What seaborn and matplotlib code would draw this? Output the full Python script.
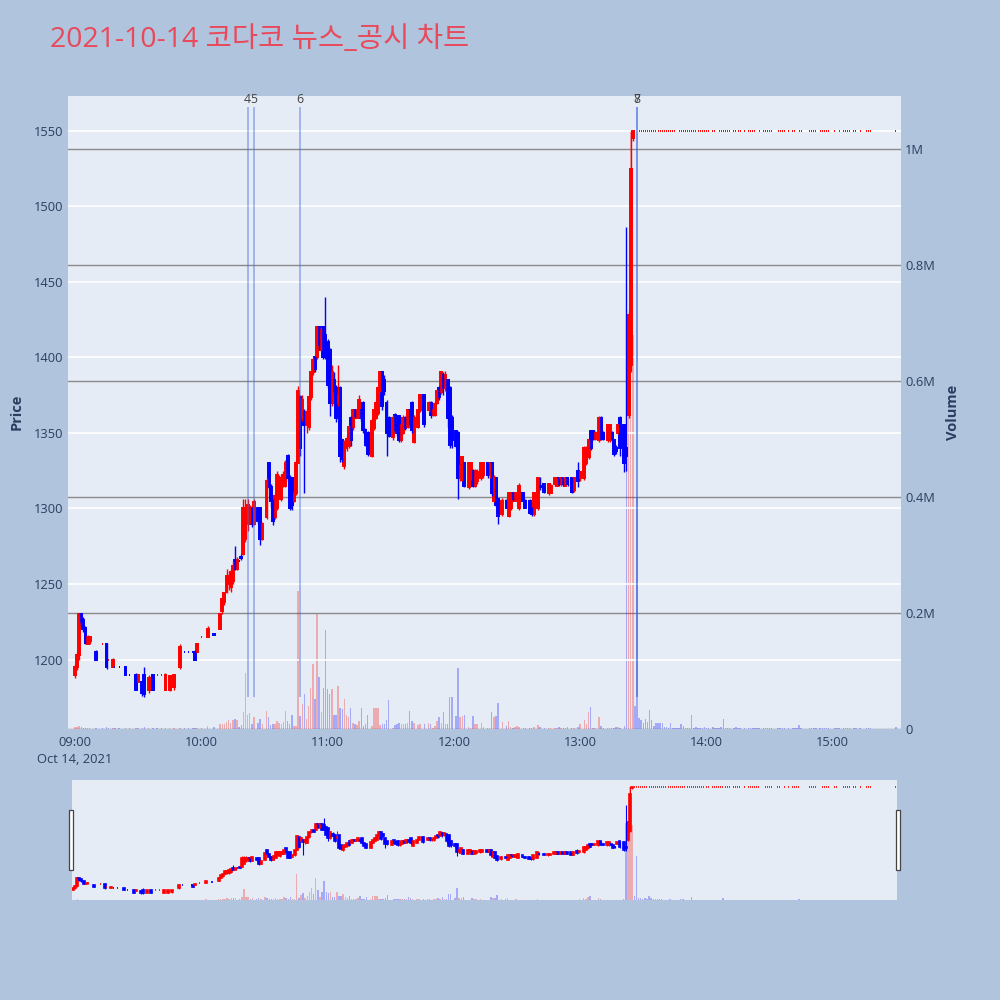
import pandas as pd
import seaborn as sns
import matplotlib.pyplot as plt
from matplotlib.patches import Rectangle

sns.set_theme(style="darkgrid")
plt.rcParams['font.family'] = ['Open Sans', 'Noto Sans CJK KR', 'DejaVu Sans']

title = '2021-10-14 코다코 뉴스_공시 차트'
date_label = 'Oct 14, 2021'
hour_labels = ['09:00', '10:00', '11:00', '12:00', '13:00', '14:00', '15:00']
price_ticks = [1200, 1250, 1300, 1350, 1400, 1450, 1500, 1550]
vol_ticks = [0, 200000, 400000, 600000, 800000, 1000000]
vol_labels = ['0', '0.2M', '0.4M', '0.6M', '0.8M', '1M']

# news markers (minutes after 09:00)
news_min = [82, 85, 107, 267, 267]
news_txt = ['4', '5', '6', '7', '8']

# 1-minute candles, t = minutes after 09:00
# 09:00 - 10:06
t_a = [0, 1, 2, 3, 4, 5, 6, 7, 10, 13, 15, 16, 18, 19, 21, 24, 26, 29, 30, 32,
       33, 35, 37, 39, 41, 43, 45, 47, 50, 52, 54, 56, 57, 58, 60, 63, 66]
o_a = [1190, 1195, 1203, 1230, 1226, 1221, 1210, 1212, 1205, 1210, 1210, 1200, 1195, 1195, 1195, 1195, 1190, 1190, 1185, 1185,
       1190, 1180, 1190, 1190, 1190, 1180, 1180, 1182, 1195, 1205, 1205, 1205, 1205, 1205, 1215, 1215, 1217]
h_a = [1197, 1205, 1231, 1231, 1228, 1222, 1216, 1215, 1206, 1210, 1211, 1200, 1201, 1195, 1195, 1195, 1190, 1191, 1190, 1186,
       1195, 1190, 1190, 1190, 1190, 1191, 1190, 1190, 1210, 1205, 1205, 1205, 1206, 1211, 1215, 1222, 1217]
l_a = [1188, 1193, 1200, 1222, 1218, 1210, 1210, 1210, 1200, 1210, 1194, 1200, 1195, 1195, 1195, 1190, 1190, 1180, 1185, 1176,
       1175, 1178, 1180, 1190, 1190, 1180, 1179, 1180, 1194, 1205, 1205, 1205, 1200, 1205, 1215, 1215, 1216]
c_a = [1195, 1203, 1230, 1225, 1220, 1211, 1215, 1215, 1200, 1210, 1195, 1200, 1200, 1195, 1195, 1190, 1190, 1180, 1190, 1178,
       1177, 1188, 1180, 1190, 1190, 1190, 1189, 1190, 1208, 1205, 1205, 1205, 1200, 1210, 1215, 1220, 1216]
v_a = [4000, 3000, 5000, 3000, 2000, 2000, 1000, 1000, 1000, 1000, 3000, 1000, 1000, 1000, 1000, 2000, 1000, 2000, 1000, 1000,
       3000, 2000, 1000, 1000, 1000, 1000, 1000, 1000, 2000, 1000, 1000, 1000, 1000, 2000, 1000, 6000, 3000]

# 10:09 - 11:06
t_b = [69, 70, 71, 72, 73, 74, 75, 76, 77, 78, 79, 80, 81, 82, 83, 84, 85, 87, 88, 89,
       91, 92, 93, 94, 95, 96, 97, 98, 99, 100, 101, 102, 103, 104, 105, 106, 107, 108, 109, 110,
       111, 112, 113, 114, 115, 116, 117, 118, 119, 120, 121, 122, 123, 124, 125, 126]
o_b = [1220, 1232, 1238, 1245, 1250, 1248, 1252, 1266, 1260, 1265, 1268, 1270, 1280, 1290, 1292, 1300, 1290, 1300, 1300, 1280,
       1294, 1330, 1314, 1305, 1294, 1300, 1310, 1306, 1315, 1315, 1335, 1320, 1320, 1305, 1310, 1330, 1374, 1360, 1364, 1355,
       1354, 1374, 1390, 1400, 1400, 1420, 1405, 1420, 1415, 1410, 1405, 1370, 1385, 1380, 1370, 1380]
h_b = [1231, 1241, 1245, 1260, 1258, 1260, 1265, 1275, 1268, 1265, 1270, 1306, 1306, 1306, 1302, 1301, 1306, 1301, 1301, 1291,
       1320, 1331, 1316, 1306, 1310, 1325, 1322, 1322, 1325, 1332, 1336, 1322, 1321, 1312, 1332, 1381, 1375, 1375, 1366, 1366,
       1375, 1391, 1400, 1401, 1421, 1421, 1420, 1421, 1440, 1412, 1406, 1395, 1390, 1382, 1395, 1381]
l_b = [1220, 1230, 1236, 1244, 1246, 1245, 1250, 1259, 1259, 1265, 1266, 1269, 1278, 1285, 1290, 1288, 1289, 1290, 1276, 1279,
       1293, 1313, 1300, 1289, 1293, 1299, 1309, 1305, 1314, 1314, 1318, 1299, 1299, 1304, 1309, 1330, 1335, 1358, 1310, 1350,
       1352, 1372, 1388, 1390, 1399, 1405, 1404, 1399, 1399, 1380, 1361, 1368, 1375, 1357, 1368, 1331]
c_b = [1230, 1240, 1244, 1255, 1255, 1258, 1262, 1260, 1266, 1265, 1267, 1300, 1300, 1302, 1300, 1290, 1304, 1292, 1280, 1290,
       1318, 1314, 1305, 1292, 1308, 1322, 1320, 1320, 1322, 1330, 1320, 1300, 1302, 1310, 1330, 1378, 1340, 1372, 1355, 1364,
       1374, 1390, 1398, 1392, 1420, 1408, 1418, 1400, 1400, 1382, 1370, 1390, 1378, 1360, 1375, 1335]
v_b = [8000, 9000, 9000, 12000, 15000, 11000, 15000, 18000, 16000, 3000, 7000, 30000, 97000, 25000, 28000, 9000, 20000, 11000, 18000, 8000,
       31000, 21000, 7000, 8000, 8000, 14000, 10000, 8000, 12000, 31000, 14000, 8000, 25000, 5000, 5000, 238000, 22000, 43000, 60000, 18000,
       40000, 71000, 112000, 51000, 198000, 89000, 30000, 71000, 170000, 69000, 60000, 69000, 25000, 25000, 74000, 37000]

# 11:07 - 12:02
t_c = [127, 128, 129, 130, 131, 132, 133, 134, 135, 136, 137, 138, 139, 141, 142, 143, 144, 145, 146, 147,
       148, 149, 151, 152, 153, 154, 155, 156, 157, 158, 159, 160, 161, 163, 164, 166, 168, 169, 170, 171,
       172, 173, 174, 175, 176, 177, 178, 179, 181, 182]
o_c = [1345, 1328, 1340, 1341, 1360, 1354, 1365, 1360, 1365, 1365, 1370, 1352, 1350, 1335, 1353, 1360, 1363, 1378, 1390, 1385,
       1370, 1360, 1347, 1362, 1358, 1361, 1345, 1350, 1360, 1354, 1365, 1370, 1344, 1354, 1365, 1375, 1365, 1370, 1362, 1362,
       1370, 1380, 1377, 1388, 1380, 1385, 1380, 1360, 1351, 1350]
h_c = [1346, 1345, 1348, 1355, 1361, 1366, 1366, 1366, 1375, 1366, 1371, 1353, 1351, 1360, 1366, 1372, 1381, 1391, 1391, 1388,
       1372, 1361, 1362, 1363, 1360, 1362, 1356, 1362, 1361, 1366, 1366, 1371, 1362, 1366, 1376, 1376, 1371, 1371, 1366, 1371,
       1379, 1381, 1391, 1390, 1391, 1386, 1381, 1362, 1352, 1351]
l_c = [1331, 1326, 1338, 1340, 1341, 1352, 1360, 1360, 1360, 1358, 1350, 1341, 1335, 1334, 1352, 1359, 1362, 1377, 1365, 1375,
       1335, 1347, 1345, 1350, 1348, 1344, 1344, 1349, 1352, 1353, 1355, 1350, 1343, 1353, 1364, 1354, 1364, 1360, 1361, 1361,
       1369, 1372, 1376, 1375, 1378, 1354, 1340, 1340, 1340, 1306]
c_c = [1333, 1344, 1346, 1354, 1345, 1365, 1361, 1365, 1372, 1360, 1352, 1342, 1336, 1358, 1365, 1370, 1380, 1390, 1368, 1378,
       1350, 1348, 1360, 1352, 1350, 1345, 1355, 1360, 1353, 1365, 1356, 1352, 1360, 1365, 1375, 1356, 1370, 1362, 1365, 1369,
       1378, 1374, 1390, 1380, 1388, 1360, 1342, 1345, 1341, 1320]
v_c = [34000, 51000, 25000, 20000, 37000, 11000, 9000, 7000, 14000, 37000, 5000, 8000, 25000, 5000, 37000, 37000, 37000, 7000, 8000, 8000,
       15000, 50000, 2000, 7000, 9000, 11000, 9000, 8000, 8000, 11000, 31000, 14000, 11000, 7000, 8000, 8000, 11000, 8000, 2000, 5000,
       13000, 20000, 11000, 29000, 9000, 9000, 55000, 55000, 22000, 106000]

# 12:03 - 13:25
t_d = [183, 184, 185, 187, 188, 189, 190, 191, 193, 194, 196, 197, 198, 199, 200, 201, 203, 205, 206, 207,
       208, 209, 210, 211, 213, 214, 216, 217, 218, 220, 221, 223, 225, 226, 228, 229, 230, 231, 232, 233,
       234, 236, 237, 239, 240, 242, 243, 244, 245, 246, 247, 249, 250, 251, 253, 254, 255, 256, 257, 258,
       259, 261, 262, 263, 264, 265]
o_d = [1320, 1319, 1330, 1314, 1320, 1325, 1315, 1318, 1320, 1322, 1330, 1322, 1330, 1305, 1320, 1306, 1296, 1305, 1295, 1300,
       1310, 1305, 1305, 1300, 1310, 1305, 1305, 1300, 1296, 1300, 1315, 1316, 1310, 1310, 1316, 1315, 1320, 1316, 1320, 1315,
       1320, 1320, 1312, 1325, 1320, 1320, 1330, 1334, 1351, 1351, 1346, 1345, 1360, 1350, 1345, 1345, 1350, 1345, 1340, 1350,
       1360, 1355, 1340, 1362, 1395, 1545]
h_d = [1330, 1335, 1331, 1331, 1331, 1326, 1326, 1326, 1331, 1331, 1331, 1331, 1331, 1322, 1321, 1307, 1307, 1306, 1311, 1311,
       1311, 1310, 1310, 1317, 1311, 1306, 1306, 1301, 1311, 1321, 1321, 1317, 1317, 1316, 1321, 1320, 1320, 1320, 1320, 1320,
       1320, 1321, 1321, 1331, 1325, 1341, 1341, 1346, 1352, 1352, 1351, 1361, 1361, 1351, 1356, 1356, 1351, 1346, 1342, 1356,
       1361, 1356, 1486, 1431, 1550, 1550]
l_d = [1318, 1318, 1314, 1313, 1319, 1314, 1314, 1316, 1319, 1320, 1320, 1320, 1308, 1304, 1301, 1290, 1295, 1300, 1294, 1299,
       1305, 1305, 1305, 1299, 1305, 1300, 1296, 1295, 1295, 1299, 1312, 1310, 1309, 1310, 1315, 1315, 1315, 1315, 1315, 1315,
       1315, 1310, 1311, 1314, 1318, 1319, 1329, 1333, 1339, 1345, 1345, 1344, 1345, 1345, 1344, 1344, 1345, 1335, 1336, 1349,
       1335, 1324, 1325, 1360, 1390, 1543]
c_d = [1328, 1334, 1315, 1330, 1330, 1315, 1325, 1324, 1330, 1330, 1322, 1330, 1310, 1320, 1302, 1295, 1305, 1300, 1310, 1310,
       1306, 1310, 1310, 1315, 1305, 1300, 1297, 1296, 1310, 1320, 1314, 1311, 1316, 1315, 1320, 1320, 1316, 1320, 1316, 1320,
       1316, 1311, 1320, 1318, 1324, 1340, 1338, 1345, 1340, 1346, 1350, 1360, 1346, 1346, 1355, 1355, 1346, 1336, 1338, 1355,
       1340, 1330, 1335, 1428, 1525, 1550]
v_d = [20000, 22000, 24000, 4000, 2000, 22000, 9000, 9000, 11000, 3000, 2000, 2000, 29000, 20000, 22000, 44000, 12000, 5000, 14000, 4000,
       2000, 3000, 5000, 3000, 2000, 2000, 2000, 2000, 3000, 7000, 3000, 1000, 1000, 1000, 2000, 1000, 3000, 1000, 1000, 1000,
       3000, 1000, 1000, 3000, 8000, 15000, 9000, 30000, 38000, 1000, 1000, 20000, 5000, 2000, 2000, 1000, 1000, 2000, 3000, 3000,
       1000, 5000, 700000, 600000, 1030000, 680000]

# upper limit (1550) minutes until the close
limit_price = 1550
t_lim = [266, 267, 268, 269, 270, 271, 272, 273, 274, 275,
         276, 277, 278, 279, 280, 281, 282, 283, 284, 285,
         286, 287, 288, 289, 290, 291, 292, 293, 294, 295,
         296, 297, 298, 299, 300, 301, 303, 304, 305, 306,
         307, 308, 309, 310, 311, 313, 314, 315, 316, 318,
         320, 321, 322, 323, 324, 325, 327, 328, 329, 330,
         331, 334, 335, 336, 337, 339, 341, 342, 343, 344,
         345, 349, 350, 351, 352, 354, 355, 356, 357, 358,
         361, 362, 363, 365, 366, 367, 368, 370, 371, 373,
         376, 377, 378, 390]
v_lim = [40000, 400000, 19000, 15000, 11000, 17000, 12000, 33000, 15000, 6000,
         10000, 10000, 10000, 10000, 3000, 3000, 2000, 10000, 2000, 1000,
         1000, 2000, 9000, 5000, 1000, 1000, 2000, 24000, 1000, 4000,
         1000, 1000, 1000, 4000, 1000, 1000, 3000, 1000, 1000, 1000,
         4000, 17000, 1000, 1000, 1000, 1000, 3000, 1000, 1000, 1000,
         2000, 1000, 1000, 1000, 1000, 1000, 2000, 1000, 1000, 1000,
         1000, 1000, 1000, 1000, 1000, 1000, 1000, 1000, 1000, 7000,
         1000, 1000, 1000, 1000, 1000, 2000, 1000, 1000, 1000, 1000,
         1000, 1000, 1000, 1000, 1000, 1000, 1000, 1000, 2000, 1000,
         1000, 1000, 1000, 3000]

frames = []
for t, o, h, l, c, v in [(t_a, o_a, h_a, l_a, c_a, v_a), (t_b, o_b, h_b, l_b, c_b, v_b),
                         (t_c, o_c, h_c, l_c, c_c, v_c), (t_d, o_d, h_d, l_d, c_d, v_d)]:
    frames.append(pd.DataFrame({'t': t, 'open': o, 'high': h, 'low': l, 'close': c, 'vol': v}))
frames.append(pd.DataFrame({'t': t_lim, 'open': limit_price, 'high': limit_price,
                            'low': limit_price, 'close': limit_price, 'vol': v_lim}))
df = pd.concat(frames, ignore_index=True)

UP, DOWN = '#ff0000', '#0000ff'
# plotly style direction: a doji keeps direction vs previous close
inc = []
prev_c, prev_inc = None, True
for o, c in zip(df['open'], df['close']):
    if c > o:
        d = True
    elif c < o:
        d = False
    elif prev_c is not None and c != prev_c:
        d = c > prev_c
    else:
        d = prev_inc
    inc.append(d)
    prev_c, prev_inc = c, d
df['ccol'] = [UP if d else DOWN for d in inc]
df['vcol'] = [UP if c > o else DOWN for o, c in zip(df['open'], df['close'])]
# flat dojis drawn narrower so the limit run reads as a dotted line
df['bw'] = [0.45 if o == c else 0.9 for o, c in zip(df['open'], df['close'])]

BG = '#e5ecf6'
FIG_BG = '#b0c4de'
TXT = '#2a3f5f'


def draw(axp, axv, wick_lw, body_lw):
    axv.bar(df['t'], df['vol'], width=0.7, color=df['vcol'], alpha=0.28, linewidth=0)
    axp.vlines(df['t'], df['low'], df['high'], colors=df['ccol'], lw=wick_lw)
    axp.bar(df['t'], df['close'] - df['open'], bottom=df['open'], width=df['bw'],
            color=df['ccol'], edgecolor=df['ccol'], linewidth=body_lw)


fig = plt.figure(figsize=(10, 10), dpi=100, facecolor=FIG_BG)

# main chart
ax = fig.add_axes([0.068, 0.271, 0.833, 0.633])
ax2 = ax.twinx()
ax.set_zorder(2)
ax2.set_zorder(1)
ax.patch.set_visible(False)
ax2.patch.set_visible(True)
ax2.patch.set_facecolor(BG)

draw(ax, ax2, 1.0, 1.4)

# news markers
y0 = df['low'].min()
y1 = df['high'].max() * 1.01
ax.vlines(news_min, y0, y1, colors='royalblue', alpha=0.45, lw=1.3)
for m, s in zip(news_min, news_txt):
    ax.annotate(s, (m, y1), xytext=(0, 1), textcoords='offset points', ha='center',
                va='bottom', fontsize=8.8, color='#444444', annotation_clip=False)

ax.set_xlim(-3.3, 392.4)
ax.set_ylim(1154, 1573)
ax2.set_ylim(0, 1091500)

ax.set_yticks(price_ticks)
ax.set_yticklabels([str(p) for p in price_ticks])
ax2.set_yticks(vol_ticks)
ax2.set_yticklabels(vol_labels)
xt = [60 * i for i in range(len(hour_labels))]
ax.set_xticks(xt)
ax.set_xticklabels([hour_labels[0] + '\n' + date_label] + hour_labels[1:])
for lbl in ax.get_xticklabels():
    lbl.set_linespacing(1.4)
    lbl.set_verticalalignment('top')

ax.grid(axis='y', color='white', lw=1.2)
ax.grid(axis='x', visible=False)
ax2.grid(axis='y', color='#8a8a8a', lw=1.0)
ax2.grid(axis='x', visible=False)
for a in (ax, ax2):
    for sp in a.spines.values():
        sp.set_visible(False)
ax.tick_params(axis='y', length=0, pad=3, labelsize=9.3, labelcolor=TXT)
ax.tick_params(axis='x', length=0, pad=5, labelsize=9.3, labelcolor=TXT)
ax2.tick_params(axis='y', length=0, pad=3, labelsize=9.3, labelcolor=TXT)
ax.set_xlabel('')
ax.set_ylabel('')

fig.text(0.010, 0.588, 'Price', rotation=90, va='center', ha='left',
         fontsize=10.5, fontweight='bold', color=TXT)
fig.text(0.946, 0.588, 'Volume', rotation=90, va='center', ha='left',
         fontsize=10.5, fontweight='bold', color=TXT)
fig.text(0.05, 0.960, title, fontsize=20.5, color='#e8495b', va='center', ha='left')

# range slider
axs = fig.add_axes([0.072, 0.100, 0.825, 0.120])
axs2 = axs.twinx()
axs.set_zorder(2)
axs2.set_zorder(1)
axs.patch.set_visible(False)
axs2.patch.set_visible(True)
axs2.patch.set_facecolor(BG)
draw(axs, axs2, 0.8, 1.2)
axs.set_xlim(-0.5, 390.5)
axs.set_ylim(1154, 1573)
axs2.set_ylim(0, 1091500)
for a in (axs, axs2):
    a.set_xticks([])
    a.set_yticks([])
    a.grid(False)
    for sp in a.spines.values():
        sp.set_visible(False)

for hx in (0.0685, 0.8955):
    fig.patches.append(Rectangle((hx, 0.130), 0.0045, 0.060, transform=fig.transFigure,
                                 facecolor='white', edgecolor='#444444', lw=0.9, zorder=5))

fig.savefig('out.png', dpi=100, facecolor=FIG_BG)
